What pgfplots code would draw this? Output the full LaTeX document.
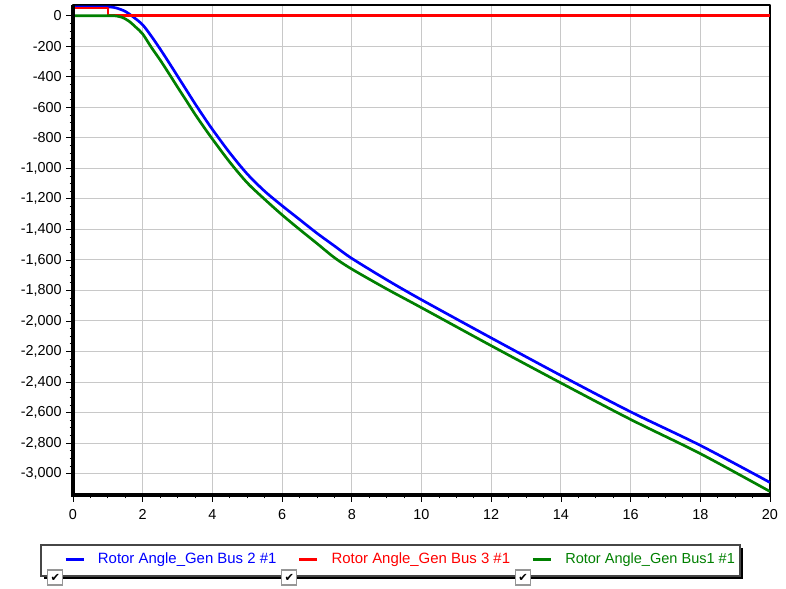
\documentclass[border=0pt]{standalone}
\usepackage{pgfplots}
\pgfplotsset{compat=1.18}
\usepackage{fontspec}
\setmainfont{Liberation Sans}
\newfontfamily\dejavu{DejaVu Sans}
\definecolor{gridgray}{RGB}{200,200,200}
\definecolor{dkgreen}{RGB}{0,128,0}
\definecolor{boxgray}{RGB}{70,70,70}
\definecolor{chkgray}{RGB}{150,150,150}
\begin{document}
\begin{tikzpicture}[x=1pt,y=1pt]
\useasboundingbox (-54.75,-70.5) rectangle (534.75,371.25);
% legend frame with shadow
\fill[black] (-21.75,-39.75) rectangle (502.5,-63);
\draw[boxgray, line width=1pt, fill=white] (-24,-37.5) rectangle (500.25,-60.75);
\begin{axis}[name=ax, at={(0,0)}, anchor=south west,
  scale only axis, width=522.75pt, height=367.5pt,
  xmin=0, xmax=20, ymin=-3140, ymax=70,
  xtick={0,2,...,20}, ytick={-3000,-2800,...,0},
  minor x tick num=3, minor y tick num=3,
  tick align=outside, tick pos=left,
  major tick length=5pt, minor tick length=2.5pt,
  every tick/.style={black, line width=0.6pt},
  grid=major, major grid style={gridgray, line width=0.75pt},
  axis line style={black, line width=1pt},
  tick label style={font=\fontsize{10.8}{13}\selectfont},
  xticklabel style={yshift=-2.5pt},
  /pgf/number format/assume math mode=true,
  /pgf/number format/1000 sep={,},
  scaled y ticks=false,
  legend columns=3,
  legend style={draw=none, fill=none, at={(-0.0129,-0.1316)}, anchor=west,
    inner sep=0pt, nodes={inner sep=0pt},
    font=\fontsize{11.2}{13}\selectfont,
    /tikz/every odd column/.append style={column sep=9.75pt}},
  legend image code/.code={\draw[#1, line width=2pt] (0pt,0pt) -- (13.5pt,0pt);},
  line join=round,
]
\addplot[blue, line width=2pt, smooth, tension=0.5] coordinates {
 (0,57) (0.5,57) (1.0,57) (1.1,56) (1.25,50) (1.5,28) (1.75,-12) (2.0,-60)
 (2.25,-135) (2.5,-218) (2.75,-306) (3.0,-396) (3.25,-486) (3.5,-576)
 (3.75,-662) (4.0,-745) (4.5,-899) (5.0,-1037) (5.5,-1150) (6.0,-1245)
 (6.5,-1335) (7.0,-1425) (7.5,-1508) (8.0,-1590) (9.0,-1730) (10,-1861)
 (12,-2111) (14,-2357) (16,-2595) (18,-2815) (20,-3058)};
\addlegendentry{\makebox[150pt][l]{\textcolor{blue}{Rotor Angle\_Gen Bus 2 \#1}}}
\addplot[red, line width=2pt] coordinates {(0,50) (1,50) (1,0) (20,0)};
\addlegendentry{\makebox[150pt][l]{\textcolor{red}{Rotor Angle\_Gen Bus 3 \#1}}}
\addplot[dkgreen, line width=2pt, smooth, tension=0.5] coordinates {
 (0,0) (0.5,0) (1.0,0) (1.2,-1) (1.4,-10) (1.6,-35) (1.8,-75) (2.0,-120)
 (2.25,-208) (2.5,-290) (2.75,-378) (3.0,-468) (3.25,-556) (3.5,-645)
 (3.75,-728) (4.0,-808) (4.5,-960) (5.0,-1095) (5.5,-1203) (6.0,-1305)
 (6.5,-1400) (7.0,-1492) (7.5,-1585) (8,-1660) (9,-1790) (10,-1913)
 (12,-2162) (14,-2406) (16,-2645) (18,-2869) (20,-3117)};
\addlegendentry{{\fontsize{10.9}{13}\selectfont\textcolor{dkgreen}{Rotor Angle\_Gen Bus1 \#1}}}
\end{axis}
\draw[black, line width=2.5pt] (ax.north west) -- (ax.south west) -- (ax.south east);
\foreach \cx in {-13.3,162.2,337.5} {
  \draw[chkgray, fill=white, line width=0.9pt] (\cx-5.6,-67.5) rectangle (\cx+5.6,-56.3);
  \node[inner sep=0pt] at (\cx,-61.9) {\dejavu\fontsize{8.5}{9}\selectfont ✔};
}
\end{tikzpicture}
\end{document}
